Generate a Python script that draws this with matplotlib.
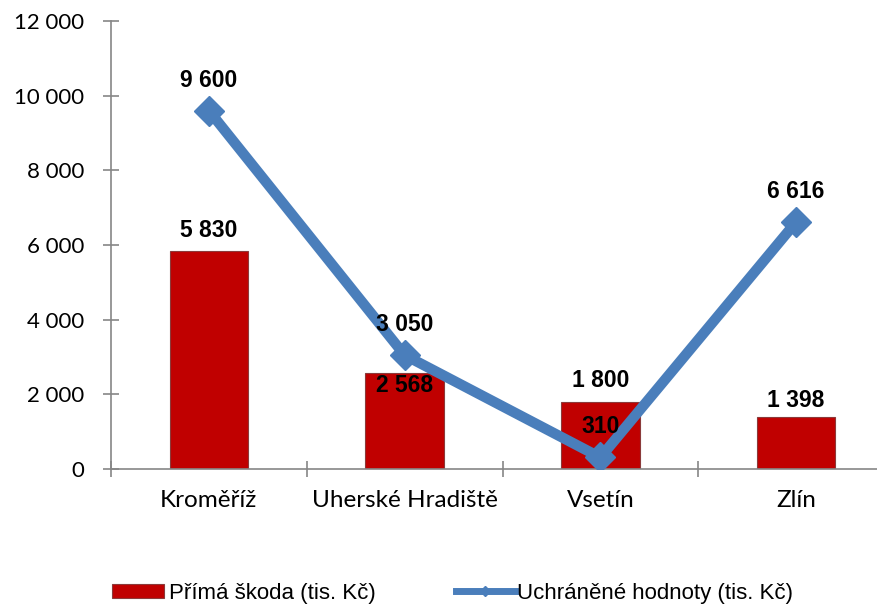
import matplotlib
matplotlib.use("Agg")
from matplotlib import pyplot as plt
from matplotlib.ticker import FuncFormatter

okresy = ["Kroměříž", "Uherské Hradiště", "Vsetín", "Zlín"]
prima_skoda = [5830, 2568, 1800, 1398]
uchranene = [9600, 3050, 310, 6616]

nazev_skoda = "Přímá škoda (tis. Kč)"
nazev_uchranene = "Uchráněné hodnoty (tis. Kč)"

cervena = "#C00000"
modra = "#4A7EBB"
seda = "#868686"


def mezery(v):
    return f"{int(v):,}".replace(",", " ")


fig = plt.figure(figsize=(8.77, 6.06), dpi=100)
ax = fig.add_axes([111 / 877, 137 / 606, 783 / 877, 448 / 606])

x = range(len(okresy))
sloupce = ax.bar(x, prima_skoda, width=0.40, color=cervena, edgecolor="#8B3A3A",
                 linewidth=0.8, label=nazev_skoda, zorder=2)
cara, = ax.plot(x, uchranene, color=modra, linewidth=7.5, marker="D", markersize=15,
                label=nazev_uchranene, zorder=3)

# popisky dat (posun v bodech)
posun_sloupce = [15, -9, 15, 12]
for i, v in enumerate(prima_skoda):
    ax.annotate(mezery(v), (i, v), xytext=(0, posun_sloupce[i]),
                textcoords="offset points", ha="center", va="center",
                fontsize=16.5, fontweight="bold", family="Liberation Sans", zorder=4)
for i, v in enumerate(uchranene):
    ax.annotate(mezery(v), (i, v), xytext=(0, 22),
                textcoords="offset points", ha="center", va="center",
                fontsize=16.5, fontweight="bold", family="Liberation Sans", zorder=4)

ax.set_ylim(0, 12000)
ax.set_yticks(range(0, 12001, 2000))
ax.yaxis.set_major_formatter(FuncFormatter(lambda v, p: mezery(v)))
ax.set_xlim(-0.5, 3.5)
ax.set_xticks(list(x))
ax.set_xticklabels(okresy)
ax.set_xticks([-0.5, 0.5, 1.5, 2.5], minor=True)

for s in ["top", "right"]:
    ax.spines[s].set_visible(False)
for s in ["left", "bottom"]:
    ax.spines[s].set_color(seda)
    ax.spines[s].set_linewidth(1.2)

ax.tick_params(axis="y", direction="inout", length=12, color=seda, width=1.2,
               labelsize=16, pad=13)
ax.tick_params(axis="x", which="major", length=0, labelsize=17.5, pad=15)
ax.tick_params(axis="x", which="minor", direction="inout", length=12,
               color=seda, width=1.2)
for t in ax.get_xticklabels() + ax.get_yticklabels():
    t.set_family("Lato")

pismo_legendy = {"family": "Liberation Sans", "size": 16}
fig.legend(handles=[sloupce], loc="center left", bbox_to_anchor=(112 / 877, 0.021),
           frameon=False, prop=pismo_legendy, borderpad=0, borderaxespad=0,
           handlelength=2.35, handleheight=0.55, handletextpad=0.22)
leg2 = fig.legend(handles=[cara], loc="center left", bbox_to_anchor=(456 / 877, 0.021),
                  frameon=False, prop=pismo_legendy, borderpad=0, borderaxespad=0,
                  handlelength=2.65, handletextpad=0.08, markerscale=0.35)
leg2.get_lines()[0].set_linewidth(5)

fig.savefig("out.png", dpi=100)
